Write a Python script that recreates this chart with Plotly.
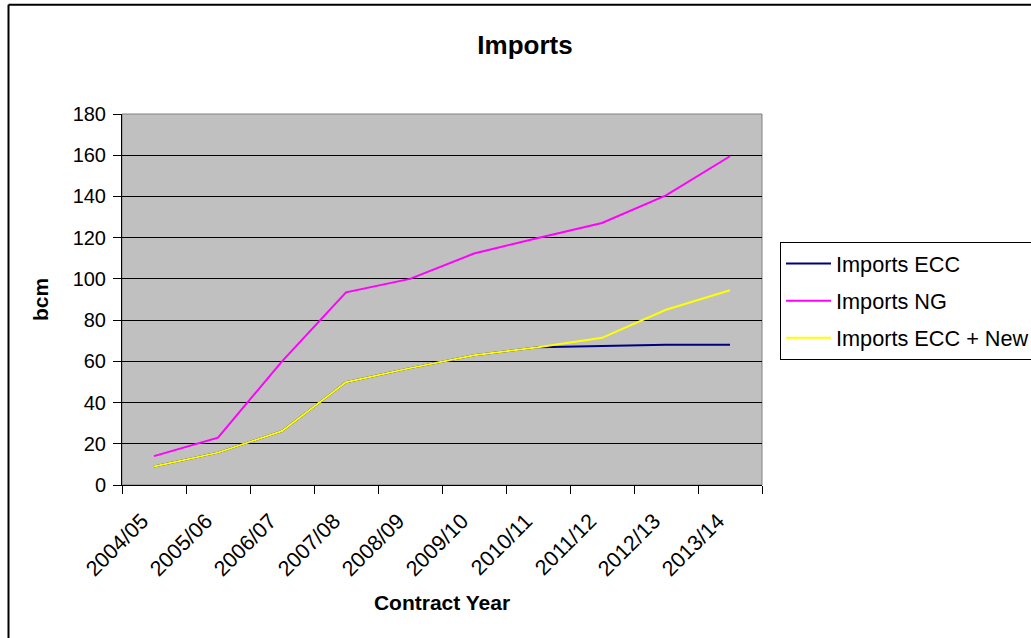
import plotly.graph_objects as go

years = ["2004/05", "2005/06", "2006/07", "2007/08", "2008/09",
         "2009/10", "2010/11", "2011/12", "2012/13", "2013/14"]
imports_ecc = [9, 15.7, 26.2, 49.9, 56.7, 63, 66.8, 67.5, 68.1, 68.1]
imports_ng = [14, 23, 60, 93.5, 100, 112.3, 119.8, 127.1, 140.5, 159.5]
imports_ecc_new = [9, 15.7, 26.2, 49.9, 56.7, 63, 66.8, 71.4, 85, 94.5]

W, H = 1031, 638
L, R, T, B = 122, 762, 114, 485.5
FONT = "Liberation Sans, Arial, sans-serif"

fig = go.Figure()
fig.add_trace(go.Scatter(x=years, y=imports_ecc, mode="lines", name="Imports ECC",
                         line=dict(color="#000080", width=2), legendgroup="a"))
fig.add_trace(go.Scatter(x=years, y=imports_ng, mode="lines", name="Imports NG",
                         line=dict(color="#FF00FF", width=2), legendgroup="b"))
fig.add_trace(go.Scatter(x=years, y=imports_ecc_new, mode="lines", name="Imports ECC + New",
                         line=dict(color="#FFFF00", width=2), legendgroup="c"))

pw, ph = R - L, B - T
def px(x):
    return (x - L) / pw
def py(y):
    return (B - y) / ph

# plot-area border (grey) and outer chart frame
fig.add_shape(type="rect", xref="paper", yref="paper", x0=0, x1=1, y0=0, y1=1,
              line=dict(color="#808080", width=1), layer="below")
fig.add_shape(type="line", xref="paper", yref="paper", x0=px(8.5), x1=px(1040),
              y0=py(4.5), y1=py(4.5), line=dict(color="black", width=2))
fig.add_shape(type="line", xref="paper", yref="paper", x0=px(8.5), x1=px(8.5),
              y0=py(4.5), y1=py(640), line=dict(color="black", width=2))

fig.update_layout(
    width=W, height=H,
    margin=dict(l=L, r=W - R, t=T, b=H - B, autoexpand=False),
    paper_bgcolor="white",
    plot_bgcolor="#C0C0C0",
    font=dict(family=FONT, color="black", size=20),
    title=dict(text="<b>Imports</b>", font=dict(size=26, family=FONT),
               x=525 / W, xref="container", xanchor="center",
               y=1 - 45 / H, yref="container", yanchor="middle"),
    showlegend=True,
    legend=dict(x=px(780), xanchor="left", y=py(242), yanchor="top",
                bordercolor="black", borderwidth=1, bgcolor="white",
                font=dict(size=21.7, family=FONT), tracegroupgap=6,
                itemwidth=45),
    xaxis=dict(
        type="category", range=[-0.5, 9.5], tickangle=-45,
        tickson="boundaries", ticks="outside", ticklen=8, tickcolor="black",
        showline=True, linecolor="black", linewidth=1, showgrid=False,
        tickfont=dict(size=21.5, family=FONT),
        ticklabelstandoff=14, ticklabelshift=-12,
        title=dict(text="<b>Contract Year</b>", font=dict(size=21, family=FONT), standoff=15),
        automargin=False,
    ),
    yaxis=dict(
        range=[0, 180], dtick=20, ticks="outside", ticklen=8, tickcolor="black",
        showline=True, linecolor="black", linewidth=1,
        showgrid=True, gridcolor="black", gridwidth=1, zeroline=False,
        tickfont=dict(size=20, family=FONT), ticklabelstandoff=3,
        title=dict(text="<b>bcm</b>", font=dict(size=21, family=FONT), standoff=18),
        automargin=False,
    ),
)

fig.write_html("out.html")
